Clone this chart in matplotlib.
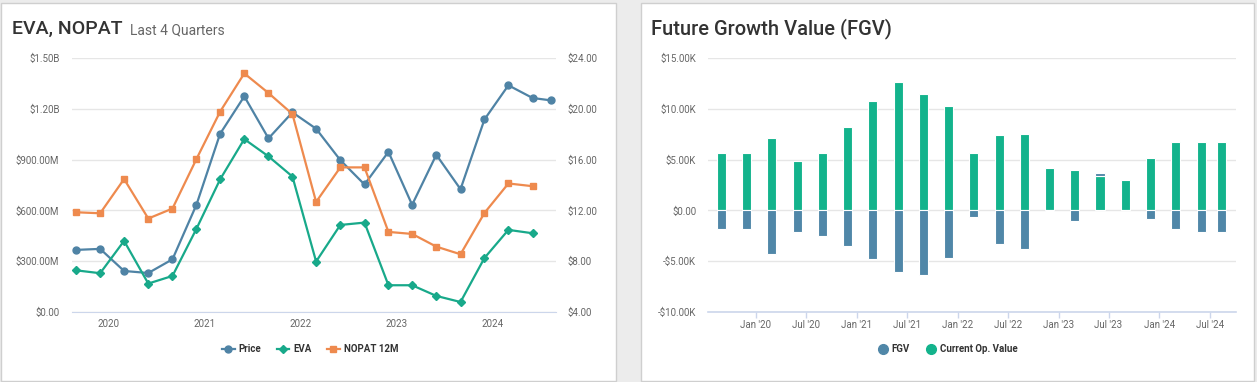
"""
EVA / NOPAT and Future Growth Value dashboard panels.
"""

import matplotlib
matplotlib.use("Agg")
import matplotlib.dates as mdates
import matplotlib.pyplot as plt
import numpy as np
import pandas as pd
from matplotlib.lines import Line2D
from matplotlib.patches import Rectangle
from matplotlib.ticker import FixedLocator, FuncFormatter

plt.rcParams["font.family"] = ["Roboto", "DejaVu Sans"]

# ---- data -----------------------------------------------------------------
quarter_dates = [
    "2019-08-31", "2019-11-30", "2020-02-29", "2020-05-31", "2020-08-31",
    "2020-11-30", "2021-02-28", "2021-05-31", "2021-08-31", "2021-11-30",
    "2022-02-28", "2022-05-31", "2022-08-31", "2022-11-30", "2023-02-28",
    "2023-05-31", "2023-08-31", "2023-11-30", "2024-02-29", "2024-05-31",
]
latest_date = "2024-08-10"

price = [8.89, 8.97, 7.23, 7.07, 8.15, 12.44, 18.03, 20.98, 17.67, 19.72,
         18.43, 15.96, 14.04, 16.61, 12.44, 16.38, 13.67, 19.16, 21.85, 20.85,
         20.66]
eva_m = [246, 229, 420, 168, 213, 491, 783, 1021, 919, 800,
         298, 514, 528, 158, 158, 95, 59, 319, 485, 465]
nopat_m = [589, 583, 785, 552, 611, 903, 1183, 1409, 1293, 1169,
           650, 854, 854, 473, 461, 386, 341, 585, 759, 743]

fgv_k = [-1.87, -1.87, -4.34, -2.17, -2.50, -3.55, -4.80, -6.11, -6.31, -4.73,
         -0.62, -3.35, -3.84, -0.08, -1.02, 0.30, 0.0, -0.85, -1.87, -2.10,
         -2.10]
cov_k = [5.68, 5.68, 7.10, 4.89, 5.62, 8.18, 10.81, 12.61, 11.50, 10.25,
         5.68, 7.39, 7.49, 4.17, 4.01, 3.40, 2.99, 5.12, 6.77, 6.70,
         6.70]

PRICE_C = "#4f83a5"
EVA_C = "#18a98a"
NOPAT_C = "#ee8a4e"
FGV_C = "#5087a8"
COV_C = "#13b38c"
GRID_C = "#e6e6e6"
TICK_C = "#666666"
TEXT_C = "#333333"

W, H = 1257, 382
fig = plt.figure(figsize=(W / 100, H / 100), dpi=100)
fig.patch.set_facecolor("#ececec")


def px_axes(x0, y0, x1, y1):
    """Add axes given pixel box (top-left origin)."""
    return fig.add_axes([x0 / W, 1 - y1 / H, (x1 - x0) / W, (y1 - y0) / H])


# panel cards
for x0, x1 in [(0.5, 615.5), (640.5, 1254)]:
    fig.patches.append(Rectangle((x0 / W, 1.5 / H), (x1 - x0) / W, (H - 4) / H,
                                 transform=fig.transFigure, facecolor="white",
                                 edgecolor="#cfcfcf", linewidth=1, zorder=-5))


def style_axes(ax, grid=True):
    ax.set_facecolor("none")
    for s in ["top", "right", "left"]:
        ax.spines[s].set_visible(False)
    ax.spines["bottom"].set_color("#ccd6eb")
    if grid:
        ax.grid(axis="y", color=GRID_C, linewidth=1)
    ax.set_axisbelow(True)
    ax.tick_params(axis="y", length=0, labelsize=7, colors=TICK_C, pad=9)


# ---- left: EVA, NOPAT -----------------------------------------------------
qd = pd.to_datetime(quarter_dates)
pd_dates = pd.to_datetime(quarter_dates + [latest_date])

ax1 = px_axes(72, 58, 556, 312)
style_axes(ax1, grid=False)
ax1r = ax1.twinx()
ax1.set_zorder(ax1r.get_zorder() + 1)

ax1.plot(qd, np.array(nopat_m) * 1e6, color=NOPAT_C, lw=1.6, marker="s",
         ms=5, zorder=3)
ax1.plot(qd, np.array(eva_m) * 1e6, color=EVA_C, lw=1.6, marker="D",
         ms=3.6, zorder=3)
ax1.set_ylim(0, 1.5e9)
ax1.yaxis.set_major_locator(FixedLocator(np.arange(0, 1.51e9, 0.3e9)))


def fmt_money(v, _):
    if abs(v) < 1:
        return "$0.00"
    if v >= 1e9 - 1:
        return f"${v / 1e9:.2f}B"
    return f"${v / 1e6:.2f}M"


ax1.yaxis.set_major_formatter(FuncFormatter(fmt_money))
ax1.set_xlim(pd.Timestamp("2019-08-15"), pd.Timestamp("2024-08-28"))
ax1.xaxis.set_major_locator(mdates.YearLocator())
ax1.xaxis.set_major_formatter(mdates.DateFormatter("%Y"))
ax1.tick_params(axis="x", length=0, labelsize=7, colors=TICK_C, pad=5)

# price on the secondary axis; its grid doubles as the panel grid
ax1r.set_facecolor("none")
for s in ax1r.spines.values():
    s.set_visible(False)
ax1r.grid(axis="y", color=GRID_C, linewidth=1)
ax1r.set_axisbelow(True)
ax1r.plot(pd_dates, price, color=PRICE_C, lw=1.6, marker="o", ms=5, zorder=4)
ax1r.set_ylim(4, 24)
ax1r.yaxis.set_major_locator(FixedLocator(np.arange(4, 24.1, 4)))
ax1r.yaxis.set_major_formatter(FuncFormatter(lambda v, _: f"${v:.2f}"))
ax1r.tick_params(axis="y", length=0, labelsize=7, colors=TICK_C, pad=8.5)

fig.text(12 / W, 1 - 34 / H, "EVA, NOPAT", fontsize=14, color=TEXT_C,
         fontweight="medium", va="baseline")
fig.text(130 / W, 1 - 34 / H, "Last 4 Quarters", fontsize=10,
         color="#666666", va="baseline")

handles1 = [
    Line2D([], [], color=PRICE_C, lw=1.6, marker="o", ms=5),
    Line2D([], [], color=EVA_C, lw=1.6, marker="D", ms=3.6),
    Line2D([], [], color=NOPAT_C, lw=1.6, marker="s", ms=5),
]
fig.legend(handles1, ["Price", "EVA", "NOPAT 12M"], loc="center",
           bbox_to_anchor=(310 / W, 1 - 349 / H), ncol=3, frameon=False,
           handlelength=1.3, handletextpad=0.4, columnspacing=1.6,
           prop={"size": 7, "weight": "bold"}, labelcolor=TEXT_C)

# ---- right: Future Growth Value --------------------------------------------
bd = pd.to_datetime(quarter_dates + ["2024-08-12"])
fgv = np.array(fgv_k) * 1e3
cov = np.array(cov_k) * 1e3

ax2 = px_axes(708, 58, 1236, 312)
style_axes(ax2)
ax2.tick_params(axis="y", pad=8.5)
ax2.spines["bottom"].set_linewidth(1.2)
bar_w = 33
ax2.bar(bd, cov, width=bar_w, color=COV_C, edgecolor="white", linewidth=0.8,
        zorder=3)
ax2.bar(bd, fgv, width=bar_w, bottom=np.where(fgv > 0, cov, 0), color=FGV_C,
        edgecolor="white", linewidth=0.8, zorder=3)
ax2.set_ylim(-10e3, 15e3)
ax2.yaxis.set_major_locator(FixedLocator(np.arange(-10e3, 15.1e3, 5e3)))


def fmt_k(v, _):
    if abs(v) < 1:
        return "$0.00"
    sign = "-" if v < 0 else ""
    return f"{sign}${abs(v) / 1e3:.2f}K"


ax2.yaxis.set_major_formatter(FuncFormatter(fmt_k))
ax2.set_xlim(pd.Timestamp("2019-07-13"), pd.Timestamp("2024-10-04"))
ax2.xaxis.set_major_locator(mdates.MonthLocator(bymonth=[1, 7]))
ax2.xaxis.set_major_formatter(mdates.DateFormatter("%b '%y"))
ax2.tick_params(axis="x", length=4.5, width=1, color="#ccd6eb", labelsize=7,
                labelcolor=TICK_C, pad=1, direction="out")

fig.text(651 / W, 1 - 34 / H, "Future Growth Value (FGV)", fontsize=14.5,
         color=TEXT_C, fontweight="medium", va="baseline")

handles2 = [
    Line2D([], [], color=FGV_C, lw=0, marker="o", ms=7),
    Line2D([], [], color=COV_C, lw=0, marker="o", ms=7),
]
fig.legend(handles2, ["FGV", "Current Op. Value"], loc="center",
           bbox_to_anchor=(948 / W, 1 - 349 / H), ncol=2, frameon=False,
           handlelength=0.8, handletextpad=0.5, columnspacing=1.8,
           prop={"size": 7, "weight": "bold"}, labelcolor=TEXT_C)

fig.savefig("out.png", dpi=100, facecolor=fig.get_facecolor())
